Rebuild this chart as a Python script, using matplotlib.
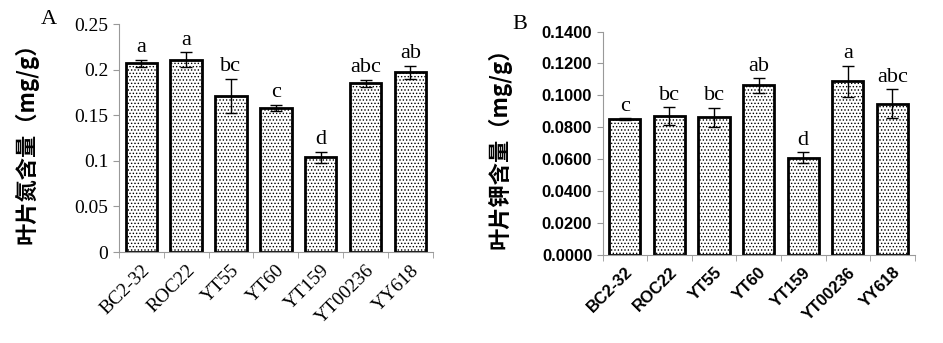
import matplotlib.pyplot as plt
import matplotlib as mpl
import numpy as np

cultivars = ['BC2-32', 'ROC22', 'YT55', 'YT60', 'YT159', 'YT00236', 'YY618']

n_mean = [0.207, 0.211, 0.171, 0.158, 0.104, 0.185, 0.197]
n_err = [0.004, 0.008, 0.019, 0.003, 0.006, 0.004, 0.007]
n_sig = ['a', 'a', 'bc', 'c', 'd', 'abc', 'ab']

k_mean = [0.0850, 0.0870, 0.0862, 0.1062, 0.0608, 0.1088, 0.0948]
k_err = [0.0005, 0.0054, 0.0060, 0.0046, 0.0035, 0.0098, 0.0090]
k_sig = ['c', 'bc', 'bc', 'ab', 'd', 'a', 'abc']

mpl.rcParams['hatch.linewidth'] = 0.6
mpl.rcParams['hatch.color'] = '#555555'

fig = plt.figure(figsize=(9.43, 3.43), dpi=100)
axA = fig.add_axes([0.126, 0.265, 0.333, 0.665])
axB = fig.add_axes([0.639, 0.257, 0.331, 0.651])

serif = ['Liberation Serif', 'DejaVu Serif']
cjk = ['Noto Sans CJK SC', 'DejaVu Sans']


def draw(ax, mean, err, sig, ymax, step, fmt, tickfont, tickweight, ticksize,
         ylabel, off, pad):
    x = np.arange(len(cultivars))
    ax.bar(x, mean, width=0.7, color='white', edgecolor='black', linewidth=2,
           hatch='.....', zorder=2)
    ax.errorbar(x, mean, yerr=err, fmt='none', ecolor='black', elinewidth=1,
                capsize=4, capthick=1, zorder=3)
    for xi, m, e, s in zip(x, mean, err, sig):
        ax.text(xi, m + e + off, s, ha='center', va='bottom', fontsize=16,
                family=serif)
    ax.set_xlim(-0.5, len(cultivars) - 0.5)
    ax.set_ylim(0, ymax)
    ticks = np.arange(0, ymax + step / 2, step)
    ax.set_yticks(ticks)
    ax.set_yticklabels([fmt(t) for t in ticks], family=tickfont,
                       fontweight=tickweight, fontsize=ticksize)
    ax.set_xticks(x)
    ax.set_xticklabels(cultivars, rotation=45, ha='right', rotation_mode='anchor',
                       family=tickfont, fontweight=tickweight, fontsize=ticksize)
    ax.set_xticks(np.arange(-0.5, len(cultivars)), minor=True)
    ax.tick_params(axis='x', which='major', length=0, pad=7)
    ax.tick_params(axis='x', which='minor', length=4, color='#999999')
    ax.tick_params(axis='y', length=4, color='#999999')
    for side in ('top', 'right'):
        ax.spines[side].set_visible(False)
    for side in ('left', 'bottom'):
        ax.spines[side].set_color('#999999')
    ax.set_ylabel(ylabel, family=cjk, fontweight='bold', fontsize=16,
                  labelpad=pad)


draw(axA, n_mean, n_err, n_sig, 0.25, 0.05,
     lambda t: '0' if t == 0 else ('%.2f' % t).rstrip('0'),
     serif, 'normal', 14, '叶片氮含量（mg/g）', 0.003, 26)
draw(axB, k_mean, k_err, k_sig, 0.14, 0.02, lambda t: '%.4f' % t,
     ['Liberation Sans', 'DejaVu Sans'], 'bold', 12, '叶片钾含量（mg/g）',
     0.0015, 22)

fig.text(0.043, 0.93, 'A', family=serif, fontsize=16)
fig.text(0.543, 0.915, 'B', family=serif, fontsize=16)

fig.savefig('out.png', dpi=100)
